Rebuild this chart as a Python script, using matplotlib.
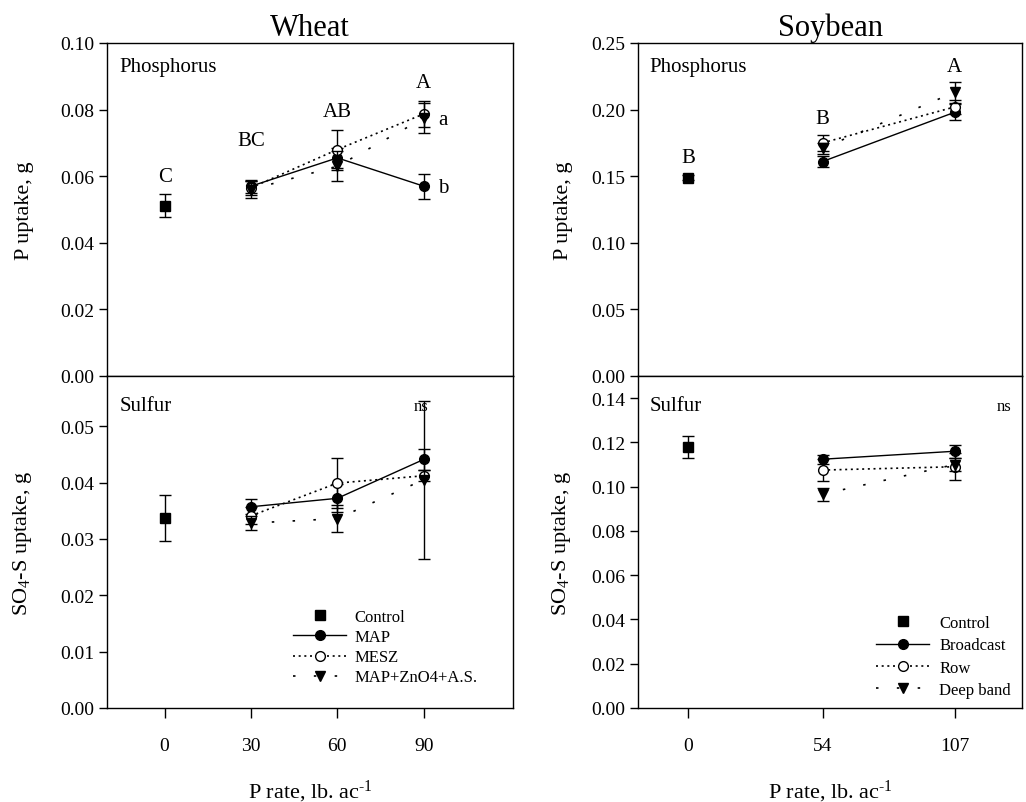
import matplotlib
matplotlib.use("Agg")
import matplotlib.pyplot as plt
from matplotlib.lines import Line2D

plt.rcParams['font.family'] = ['Liberation Serif', 'DejaVu Serif']
plt.rcParams['mathtext.fontset'] = 'custom'
plt.rcParams['mathtext.rm'] = 'Liberation Serif'
plt.rcParams['mathtext.it'] = 'Liberation Serif:italic'

# ---------------- data ----------------
# Wheat
wheat_rates = [30, 60, 90]
wheat_ctrl_x = [0]
wheat_P_ctrl = [0.0511]
wheat_P_ctrl_err = [0.0035]
wheat_P_map = [0.0570, 0.0655, 0.0570]
wheat_P_map_err = [0.0020, 0.0030, 0.0037]
wheat_P_mesz = [0.0565, 0.0680, 0.0787]
wheat_P_mesz_err = [0.0020, 0.0060, 0.0040]
wheat_P_zn = [0.0560, 0.0630, 0.0774]
wheat_P_zn_err = [0.0025, 0.0045, 0.0045]
wheat_P_letters = ['C', 'BC', 'AB', 'A']

wheat_S_ctrl = [0.0337]
wheat_S_ctrl_err = [0.0040]
wheat_S_map = [0.0357, 0.0372, 0.0441]
wheat_S_map_err = [0.0013, 0.0025, 0.0018]
wheat_S_mesz = [0.0341, 0.0399, 0.0412]
wheat_S_mesz_err = [0.0015, 0.0044, 0.0010]
wheat_S_zn = [0.0328, 0.0336, 0.0405]
wheat_S_zn_err = [0.0013, 0.0024, 0.0140]

# Soybean
soy_rates = [54, 107]
soy_ctrl_x = [0]
soy_P_ctrl = [0.149]
soy_P_ctrl_err = [0.002]
soy_P_bc = [0.161, 0.198]
soy_P_bc_err = [0.004, 0.006]
soy_P_row = [0.175, 0.202]
soy_P_row_err = [0.006, 0.005]
soy_P_deep = [0.171, 0.213]
soy_P_deep_err = [0.004, 0.008]
soy_P_letters = ['B', 'B', 'A']

soy_S_ctrl = [0.118]
soy_S_ctrl_err = [0.005]
soy_S_bc = [0.1124, 0.116]
soy_S_bc_err = [0.002, 0.003]
soy_S_row = [0.1075, 0.109]
soy_S_row_err = [0.005, 0.006]
soy_S_deep = [0.0966, 0.110]
soy_S_deep_err = [0.003, 0.003]

wheat_xticks = [0, 30, 60, 90]
soy_xticks = [0, 54, 107]
wheat_legend = ['Control', 'MAP', 'MESZ', 'MAP+ZnO4+A.S.']
soy_legend = ['Control', 'Broadcast', 'Row', 'Deep band']

# ---------------- styles ----------------
DOT = (0, (1.2, 2.2))
SPARSE = (0, (1.5, 11))
ms_c = 7
ms_s = 7
ms_t = 7.5
cap = 4
elw = 1.0

W, H = 1026, 803
fig = plt.figure(figsize=(W / 100, H / 100), dpi=100)

def fx(px):
    return px / W

def fy(py):
    return 1 - py / H

axL_top = fig.add_axes([fx(107), fy(377), fx(513) - fx(107), fy(44) - fy(377)])
axL_bot = fig.add_axes([fx(107), fy(709), fx(513) - fx(107), fy(377) - fy(709)])
axR_top = fig.add_axes([fx(638), fy(377), fx(1022) - fx(638), fy(44) - fy(377)])
axR_bot = fig.add_axes([fx(638), fy(709), fx(1022) - fx(638), fy(377) - fy(709)])


def draw(ax, ctrl_x, ctrl, ctrl_err, rates, s1, e1, s2, e2, s3, e3):
    ax.errorbar(ctrl_x, ctrl, yerr=ctrl_err, fmt='s', color='black', ms=ms_s,
                capsize=cap, elinewidth=elw, capthick=elw, zorder=5)
    ax.errorbar(rates, s1, yerr=e1, fmt='o', ls='-', lw=1, color='black', ms=ms_c,
                capsize=cap, elinewidth=elw, capthick=elw, zorder=4)
    ax.errorbar(rates, s2, yerr=e2, fmt='o', ls=DOT, lw=1.2, color='black',
                mfc='white', ms=ms_c, capsize=cap, elinewidth=elw, capthick=elw, zorder=5)
    ax.errorbar(rates, s3, yerr=e3, fmt='v', ls=SPARSE, lw=1.2, color='black',
                ms=ms_t, capsize=cap, elinewidth=elw, capthick=elw, zorder=6)


for ax in (axL_top, axL_bot, axR_top, axR_bot):
    for s in ('top', 'right', 'bottom', 'left'):
        ax.spines[s].set_linewidth(1.0)
    ax.tick_params(axis='y', direction='out', length=6, width=1, labelsize=14, pad=3,
                   right=False)
    ax.tick_params(axis='x', direction='out', length=7, width=1, labelsize=14, pad=14,
                   top=False)

XLAB = r'P rate, lb. ac$^{\text{-1}}$'

# Wheat phosphorus
draw(axL_top, wheat_ctrl_x, wheat_P_ctrl, wheat_P_ctrl_err, wheat_rates,
     wheat_P_map, wheat_P_map_err, wheat_P_mesz, wheat_P_mesz_err, wheat_P_zn, wheat_P_zn_err)
axL_top.set_xlim(-20, 121)
axL_top.set_ylim(0, 0.10)
axL_top.set_yticks([0, 0.02, 0.04, 0.06, 0.08, 0.10])
axL_top.set_yticklabels(['0.00', '0.02', '0.04', '0.06', '0.08', '0.10'])
axL_top.set_xticks([])
axL_top.set_ylabel('P uptake, g', fontsize=16)
axL_top.yaxis.set_label_coords(-0.18, 0.5)
axL_top.text(0.03, 0.93, 'Phosphorus', transform=axL_top.transAxes, fontsize=15,
             va='center', ha='left')
for x, lab, y in zip(wheat_xticks, wheat_P_letters, [0.0600, 0.0706, 0.0795, 0.0880]):
    axL_top.text(x, y, lab, ha='center', va='center', fontsize=15)
axL_top.text(95, wheat_P_zn[2] - 0.0003, 'a', ha='left', va='center', fontsize=15)
axL_top.text(95, wheat_P_map[2] - 0.0003, 'b', ha='left', va='center', fontsize=15)
axL_top.set_title('Wheat', fontsize=22, pad=6)

# Wheat sulfur
draw(axL_bot, wheat_ctrl_x, wheat_S_ctrl, wheat_S_ctrl_err, wheat_rates,
     wheat_S_map, wheat_S_map_err, wheat_S_mesz, wheat_S_mesz_err, wheat_S_zn, wheat_S_zn_err)
axL_bot.set_xlim(-20, 121)
axL_bot.set_ylim(0, 0.0589)
axL_bot.set_yticks([0, 0.01, 0.02, 0.03, 0.04, 0.05])
axL_bot.set_yticklabels(['0.00', '0.01', '0.02', '0.03', '0.04', '0.05'])
axL_bot.set_xticks(wheat_xticks)
axL_bot.set_xticklabels([str(v) for v in wheat_xticks])
axL_bot.set_ylabel(r'SO$_4$-S uptake, g', fontsize=16)
axL_bot.yaxis.set_label_coords(-0.18, 0.5)
axL_bot.set_xlabel(XLAB, fontsize=16, labelpad=17)
axL_bot.text(0.03, 0.91, 'Sulfur', transform=axL_bot.transAxes, fontsize=15,
             va='center', ha='left')
axL_bot.text(0.755, 0.91, 'ns', transform=axL_bot.transAxes, fontsize=12,
             va='center', ha='left')

# Soybean phosphorus
draw(axR_top, soy_ctrl_x, soy_P_ctrl, soy_P_ctrl_err, soy_rates,
     soy_P_bc, soy_P_bc_err, soy_P_row, soy_P_row_err, soy_P_deep, soy_P_deep_err)
axR_top.set_xlim(-20, 134)
axR_top.set_ylim(0, 0.25)
axR_top.set_yticks([0, 0.05, 0.10, 0.15, 0.20, 0.25])
axR_top.set_yticklabels(['0.00', '0.05', '0.10', '0.15', '0.20', '0.25'])
axR_top.set_xticks([])
axR_top.set_ylabel('P uptake, g', fontsize=16)
axR_top.yaxis.set_label_coords(-0.17, 0.5)
axR_top.text(0.03, 0.93, 'Phosphorus', transform=axR_top.transAxes, fontsize=15,
             va='center', ha='left')
for x, lab, y in zip(soy_xticks, soy_P_letters, [0.1640, 0.1930, 0.2320]):
    axR_top.text(x, y, lab, ha='center', va='center', fontsize=15)
axR_top.set_title('Soybean', fontsize=22, pad=6)

# Soybean sulfur
draw(axR_bot, soy_ctrl_x, soy_S_ctrl, soy_S_ctrl_err, soy_rates,
     soy_S_bc, soy_S_bc_err, soy_S_row, soy_S_row_err, soy_S_deep, soy_S_deep_err)
axR_bot.set_xlim(-20, 134)
axR_bot.set_ylim(0, 0.15)
axR_bot.set_yticks([0, 0.02, 0.04, 0.06, 0.08, 0.10, 0.12, 0.14])
axR_bot.set_yticklabels(['0.00', '0.02', '0.04', '0.06', '0.08', '0.10', '0.12', '0.14'])
axR_bot.set_xticks(soy_xticks)
axR_bot.set_xticklabels([str(v) for v in soy_xticks])
axR_bot.set_ylabel(r'SO$_4$-S uptake, g', fontsize=16)
axR_bot.yaxis.set_label_coords(-0.17, 0.5)
axR_bot.set_xlabel(XLAB, fontsize=16, labelpad=17)
axR_bot.text(0.03, 0.91, 'Sulfur', transform=axR_bot.transAxes, fontsize=15,
             va='center', ha='left')
axR_bot.text(0.935, 0.91, 'ns', transform=axR_bot.transAxes, fontsize=12,
             va='center', ha='left')


def handles():
    return [
        Line2D([], [], ls='none', marker='s', color='black', ms=ms_s),
        Line2D([], [], ls='-', lw=1, marker='o', color='black', ms=ms_c),
        Line2D([], [], ls=DOT, lw=1.2, marker='o', color='black', mfc='white', ms=ms_c),
        Line2D([], [], ls=SPARSE, lw=1.2, marker='v', color='black', ms=ms_t),
    ]


fig.legend(handles(), wheat_legend, loc='upper left',
           bbox_to_anchor=(fx(293), fy(610)), bbox_transform=fig.transFigure,
           frameon=False, fontsize=12, handlelength=3.2, handletextpad=0.5,
           labelspacing=0.25, borderpad=0, borderaxespad=0)
fig.legend(handles(), soy_legend, loc='upper left',
           bbox_to_anchor=(fx(876), fy(616)), bbox_transform=fig.transFigure,
           frameon=False, fontsize=12, handlelength=3.2, handletextpad=0.6,
           labelspacing=0.38, borderpad=0, borderaxespad=0)

fig.savefig('out.png', dpi=100)
